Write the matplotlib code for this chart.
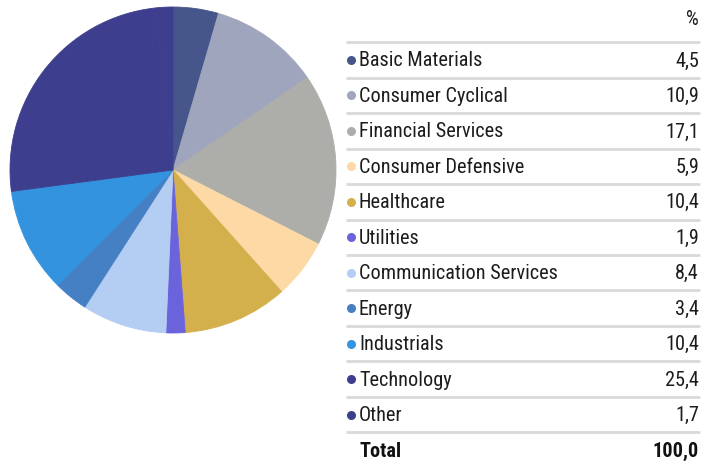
import matplotlib
matplotlib.use("Agg")
import matplotlib.pyplot as plt
from matplotlib import font_manager as fm

sectors = ['Basic Materials', 'Consumer Cyclical', 'Financial Services', 'Consumer Defensive',
           'Healthcare', 'Utilities', 'Communication Services', 'Energy', 'Industrials',
           'Technology', 'Other']
values = [4.5, 10.9, 17.1, 5.9, 10.4, 1.9, 8.4, 3.4, 10.4, 25.4, 1.7]
value_labels = ['4,5', '10,9', '17,1', '5,9', '10,4', '1,9', '8,4', '3,4', '10,4', '25,4', '1,7']
total_label = '100,0'
colors = ['#47568a', '#9ea5bd', '#adadaa', '#fddaa5', '#d4b04d', '#6b63dc',
          '#b4cdf3', '#4580c4', '#3493df', '#3d3e8d', '#3d3e8d']

# condensed face, whichever is installed
installed = {f.name for f in fm.fontManager.ttflist}
fam = [n for n in ['Roboto Condensed', 'Liberation Sans Narrow', 'Archivo Narrow',
                   'Barlow Condensed'] if n in installed][:1]
plt.rcParams['font.family'] = fam + ['DejaVu Sans']

W, H = 717, 461
fig = plt.figure(figsize=(W / 100, H / 100), dpi=100)

# pie ------------------------------------------------------------------
ax = fig.add_axes([10 / W, (H - 333) / H, 326 / W, 326 / H])
wedges, _ = ax.pie(values, colors=colors, startangle=90, counterclock=False,
                   wedgeprops=dict(linewidth=0.6))
for w in wedges:
    w.set_edgecolor(w.get_facecolor())
ax.set_xlim(-1, 1)
ax.set_ylim(-1, 1)
ax.set_aspect('equal')
ax.axis('off')

# table ----------------------------------------------------------------
tx = fig.add_axes([340 / W, 0, 370 / W, 1])
tx.set_xlim(340, 710)
tx.set_ylim(11.31, -1.69)
tx.axis('off')

fs = 14.6
txt = '#1c1c1c'
tx.text(699, -1.13, '%', ha='right', va='center', fontsize=fs, color=txt)
for i, (name, v, c) in enumerate(zip(sectors, value_labels, colors)):
    tx.plot([346, 700], [i - 0.5, i - 0.5], color='#d9d9d9', lw=2, solid_capstyle='butt')
    tx.plot(351, i, 'o', color=c, ms=6.5, mec='none')
    tx.text(359, i + 0.03, name, ha='left', va='center', fontsize=fs, color=txt)
    tx.text(699, i + 0.03, v, ha='right', va='center', fontsize=fs, color=txt)
n = len(sectors)
tx.plot([346, 700], [n - 0.5, n - 0.5], color='#d9d9d9', lw=2, solid_capstyle='butt')
tx.text(359, n + 0.03, 'Total', ha='left', va='center', fontsize=fs, color='#111111', fontweight='bold')
tx.text(699, n + 0.03, total_label, ha='right', va='center', fontsize=fs, color='#111111', fontweight='bold')

fig.savefig('out.png', dpi=100)
